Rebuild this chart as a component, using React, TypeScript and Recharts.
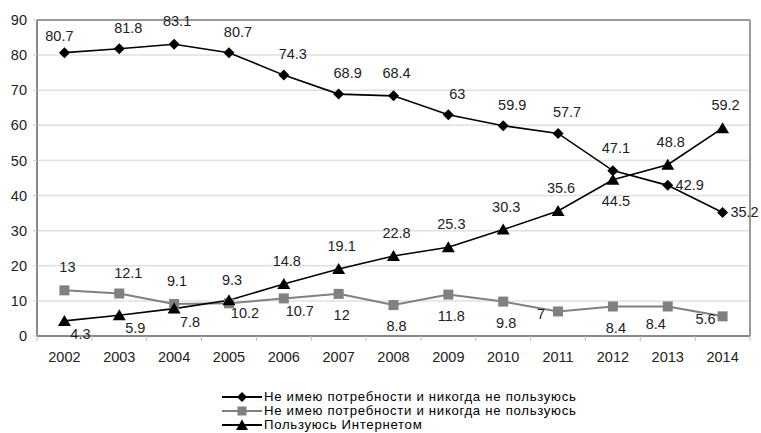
import React from 'react';
import { LineChart, Line, XAxis, YAxis, CartesianGrid, LabelList, ReferenceLine } from 'recharts';

const years = ['2002', '2003', '2004', '2005', '2006', '2007', '2008', '2009', '2010', '2011', '2012', '2013', '2014'];
const noNeedA = [80.7, 81.8, 83.1, 80.7, 74.3, 68.9, 68.4, 63, 59.9, 57.7, 47.1, 42.9, 35.2];
const noNeedB = [13, 12.1, 9.1, 9.3, 10.7, 12, 8.8, 11.8, 9.8, 7, 8.4, 8.4, 5.6];
const useInternet = [4.3, 5.9, 7.8, 10.2, 14.8, 19.1, 22.8, 25.3, 30.3, 35.6, 44.5, 48.8, 59.2];
const yTicks = [0, 10, 20, 30, 40, 50, 60, 70, 80, 90];

const seriesNames = [
  'Не имею потребности и никогда не пользуюсь',
  'Не имею потребности и никогда не пользуюсь',
  'Пользуюсь Интернетом',
];

// label placement codes per point
const placeA = ['tl', 'tr', 't', 'tr', 'tr', 'tr', 't', 'tr', 'tr', 'tr', 't', 'r', 'r'];
const placeB = ['t', 'tr', 't', 't', 'br', 'b', 'b', 'b', 'b', 'l', 'b', 'bl', 'l'];
const placeC = ['br', 'br', 'br', 'br', 't', 't', 't', 't', 't', 't', 'b', 't', 't'];

const OFFSETS: Record<string, [number, number]> = {
  t: [3, -23],
  tl: [-5, -17],
  tr: [9, -21],
  b: [3, 21],
  br: [16, 13],
  bl: [-12, 17],
  r: [22, 0],
  l: [-17, 3],
};

const data = years.map((y, i) => ({ year: y, a: noNeedA[i], b: noNeedB[i], c: useInternet[i] }));

const W = 761;
const H = 433;
const M = { top: 20, right: 11, left: 0, bottom: 67 };
const Y_W = 37;
const X_H = 30;
const PLOT_W = W - M.right - Y_W;
const PLOT_H = H - M.top - M.bottom - X_H;
const BAND = PLOT_W / years.length;
const FONT = '"Liberation Sans", Arial, sans-serif';

const Diamond = (props: any) => {
  const { cx, cy } = props;
  if (cx == null || cy == null) return null;
  const r = 5.5;
  return <path d={`M${cx},${cy - r}L${cx + r},${cy}L${cx},${cy + r}L${cx - r},${cy}Z`} fill="#000" />;
};
const Square = (props: any) => {
  const { cx, cy } = props;
  if (cx == null || cy == null) return null;
  const r = 5;
  return <rect x={cx - r} y={cy - r} width={2 * r} height={2 * r} fill="#808080" />;
};
const Triangle = (props: any) => {
  const { cx, cy } = props;
  if (cx == null || cy == null) return null;
  return <path d={`M${cx},${cy - 6}L${cx + 6.5},${cy + 5}L${cx - 6.5},${cy + 5}Z`} fill="#000" />;
};

const makeLabel = (places: string[]) => (props: any) => {
  const { x, y, value, index } = props;
  const [dx, dy] = OFFSETS[places[index]] || [0, -20];
  return (
    <text x={x + dx} y={y + dy} textAnchor="middle" dominantBaseline="central" fontSize={14.5} fontFamily={FONT} fill="#222">
      {value}
    </text>
  );
};

const XTick = (props: any) => {
  const { x, y, payload, index } = props;
  const axisY = y - 8;
  const last = index === years.length - 1;
  return (
    <g>
      <line x1={x - BAND / 2} x2={x - BAND / 2} y1={axisY} y2={axisY + 5} stroke="#bbb" />
      {last && <line x1={x + BAND / 2} x2={x + BAND / 2} y1={axisY} y2={axisY + 5} stroke="#bbb" />}
      {last && <line x1={x + BAND / 2} x2={x + BAND / 2} y1={axisY} y2={axisY - PLOT_H} stroke="#999" strokeWidth={2} />}
      <text x={x} y={axisY + 21} textAnchor="middle" dominantBaseline="central" fontSize={14.5} fontFamily={FONT} fill="#222">
        {payload.value}
      </text>
    </g>
  );
};

const LegendIcon = ({ kind }: { kind: number }) => {
  const color = kind === 1 ? '#808080' : '#000';
  return (
    <svg width={40} height={12} style={{ display: 'block' }}>
      <line x1={0} x2={40} y1={6} y2={6} stroke={color} strokeWidth={2} />
      {kind === 0 && <path d="M20,1L25,6L20,11L15,6Z" fill="#000" />}
      {kind === 1 && <rect x={15.5} y={1.5} width={9} height={9} fill="#808080" />}
      {kind === 2 && <path d="M20,0.5L26,11L14,11Z" fill="#000" />}
    </svg>
  );
};

export default function App() {
  return (
    <div style={{ position: 'absolute', left: 0, top: 0, width: W, height: H, background: '#fff' }}>
      <LineChart width={W} height={H} data={data} margin={M}>
        <CartesianGrid horizontal vertical={false} stroke="#e0e0e0" strokeWidth={1.5} />
        <ReferenceLine y={90} stroke="#999" strokeWidth={2} />
        <XAxis
          dataKey="year"
          scale="band"
          height={X_H}
          axisLine={{ stroke: '#888', strokeWidth: 2 }}
          tickLine={false}
          tickSize={0}
          tickMargin={8}
          interval={0}
          tick={<XTick />}
        />
        <YAxis
          domain={[0, 90]}
          ticks={yTicks}
          width={Y_W}
          interval={0}
          axisLine={{ stroke: '#888', strokeWidth: 2 }}
          tickLine={{ stroke: '#ccc' }}
          tickSize={4}
          tickMargin={6}
          tick={{ fontSize: 14.5, fontFamily: FONT, fill: '#222' }}
        />
        <Line dataKey="b" stroke="#808080" strokeWidth={2} dot={<Square />} activeDot={false} isAnimationActive={false}>
          <LabelList dataKey="b" content={makeLabel(placeB)} />
        </Line>
        <Line dataKey="a" stroke="#000" strokeWidth={1.6} dot={<Diamond />} activeDot={false} isAnimationActive={false}>
          <LabelList dataKey="a" content={makeLabel(placeA)} />
        </Line>
        <Line dataKey="c" stroke="#000" strokeWidth={1.6} dot={<Triangle />} activeDot={false} isAnimationActive={false}>
          <LabelList dataKey="c" content={makeLabel(placeC)} />
        </Line>
      </LineChart>
      <div style={{ position: 'absolute', left: 222, top: 390, fontFamily: FONT, fontSize: 13.2, letterSpacing: 0.7, color: '#000', lineHeight: '14px' }}>
        {seriesNames.map((n, i) => (
          <div key={i} style={{ display: 'flex', alignItems: 'center', height: 14 }}>
            <LegendIcon kind={i} />
            <span style={{ marginLeft: 2, whiteSpace: 'nowrap' }}>{n}</span>
          </div>
        ))}
      </div>
    </div>
  );
}
